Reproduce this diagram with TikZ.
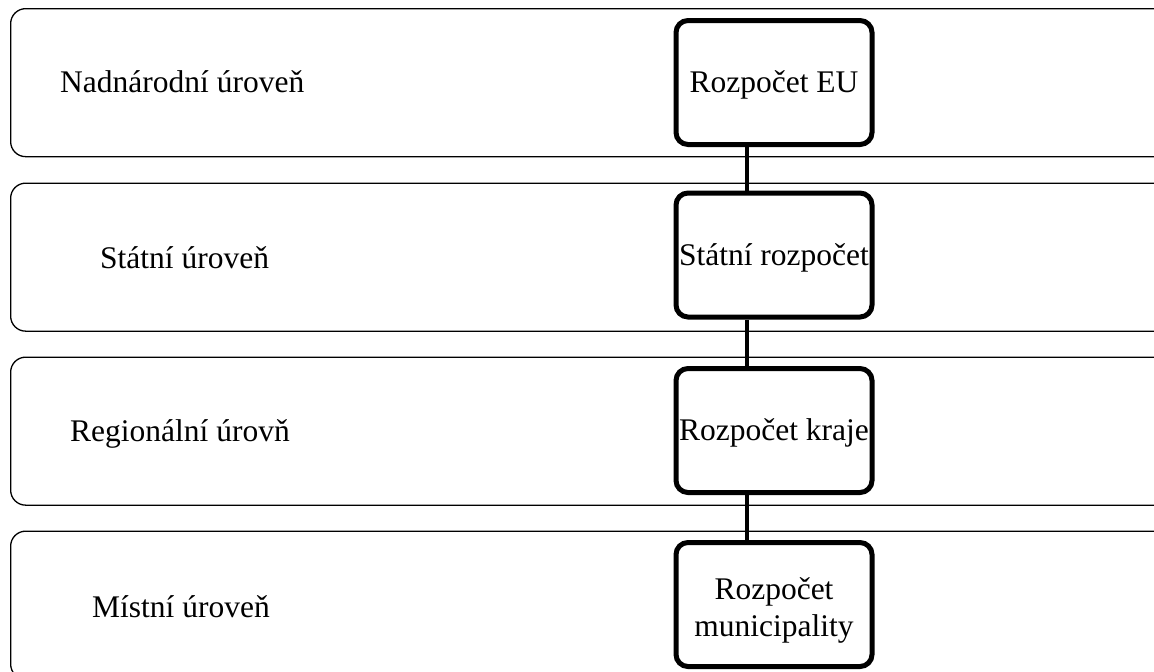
\documentclass[tikz,border=0pt]{standalone}
\usepackage{fontspec}
\setmainfont{Liberation Serif}
\begin{document}
\begin{tikzpicture}[
		x=1pt, y=-1pt,
		every node/.style={font=\fontsize{31.5}{37}\selectfont},
		band/.style={draw, line width=1.3pt, rounded corners=15pt, minimum width=1170pt, minimum height=148pt, anchor=north west, inner sep=0},
		budget/.style={draw, line width=5pt, rounded corners=12pt, minimum width=196pt, minimum height=124pt, align=center, inner sep=0, text height=22pt, text depth=2pt},
		level/.style={anchor=west, inner sep=0},
	]
	\useasboundingbox (0,0) rectangle (1154,672);
	\clip (0,0) rectangle (1154,672);
	\node[band] (band1) at (10,8) {};
	\node[band] (band2) at (10,182.5) {};
	\node[band] (band3) at (10,356.5) {};
	\node[band] (band4) at (10,530.5) {};

	\node[level] (lvl1) at (60,82) {Nadnárodní úroveň};
	\node[level] (lvl2) at (100,258) {Státní úroveň};
	\node[level] (lvl3) at (70,434) {Regionální úrovň};
	\node[level] (lvl4) at (92,607) {Místní úroveň};

	\node[budget] (eu) at (774,82.5) {Rozpočet EU};
	\node[budget] (state) at (774,255) {Státní rozpočet};
	\node[budget] (region) at (774,430.5) {Rozpočet kraje};
	\node[budget, text height=65pt] (muni) at (774,604.5) {Rozpočet\\municipality};

	\draw[line width=3.5pt] ([xshift=-27pt]eu.south) -- ([xshift=-27pt]state.north);
	\draw[line width=3.5pt] ([xshift=-27pt]state.south) -- ([xshift=-27pt]region.north);
	\draw[line width=3.5pt] ([xshift=-27pt]region.south) -- ([xshift=-27pt]muni.north);
\end{tikzpicture}
\end{document}
